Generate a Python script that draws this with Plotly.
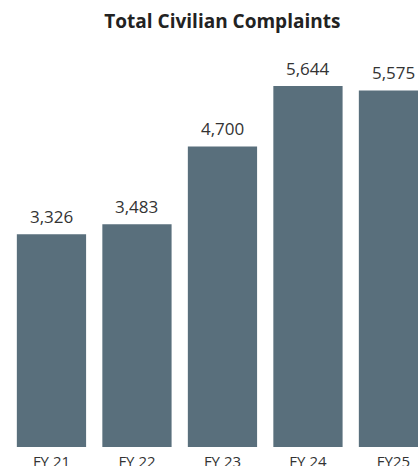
import plotly.graph_objects as go

categories = ["FY 21", "FY 22", "FY 23", "FY 24", "FY25"]
values = [3326, 3483, 4700, 5644, 5575]
labels = ["3,326", "3,483", "4,700", "5,644", "5,575"]

fig = go.Figure(go.Bar(
    x=categories, y=values,
    marker_color="#596F7C", marker_line_width=0,
))

for c, v, t in zip(categories, values, labels):
    fig.add_annotation(x=c, y=v, text=t, showarrow=False, yanchor="bottom",
                       yshift=4, font=dict(family="Open Sans", size=17, color="#333333"))

fig.update_layout(
    width=418, height=466,
    margin=dict(l=0, r=0, t=0, b=19),
    paper_bgcolor="white", plot_bgcolor="white",
    bargap=0.19,
    showlegend=False,
    title=dict(text="<b>Total Civilian Complaints</b>", x=0.532, xanchor="center",
               y=1 - 21/466, yanchor="middle", yref="container",
               font=dict(family="Open Sans", size=19, color="#222222")),
    xaxis=dict(range=[-0.602, 4.287], showgrid=False, zeroline=False, showline=False,
               ticks="", automargin=False, ticklabelstandoff=4,
               tickfont=dict(family="Open Sans", size=15, color="#333333")),
    yaxis=dict(range=[0, 6989], visible=False, automargin=False),
)

fig.write_html("out.html")
